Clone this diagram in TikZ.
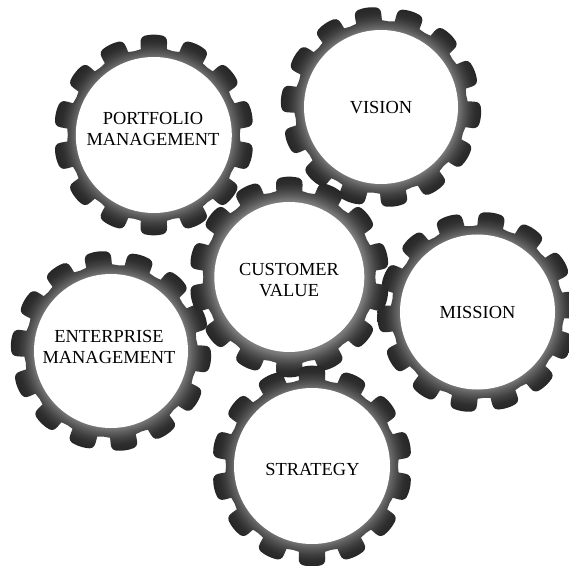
\documentclass[tikz,border=0pt]{standalone}
\usepackage{fontspec}
\setmainfont{Liberation Serif}
\definecolor{gear1}{HTML}{7C7C7C}
\definecolor{gear2}{HTML}{5E5E5E}
\definecolor{gear3}{HTML}{424242}
\definecolor{gear4}{HTML}{2E2E2E}
\definecolor{gear5}{HTML}{262626}
\pgfdeclareradialshading{gearshade}{\pgfpoint{0bp}{0bp}}{%
  color(0bp)=(gear1);color(19bp)=(gear1);color(20.3bp)=(gear2);color(21.8bp)=(gear3);color(23.3bp)=(gear4);color(25bp)=(gear5);color(50bp)=(gear5)}
\tikzset{
  gearbody/.style={shading=gearshade,draw=none},
  gearhole/.style={circle,fill=white,draw=none,inner sep=0pt},
  gearlabel/.style={align=center,text=black,font=\fontsize{18.4}{21.8}\selectfont,inner sep=0pt},
}
% name, cx, cy (from top), rotation, outer radius, hole radius
\newcommand{\gearwheel}[6]{%
  \begin{scope}[shift={(#2,565-#3)}]
    \pgfmathsetmacro{\gscale}{#5/100}
    \shade[gearbody,x=\gscale pt,y=\gscale pt]
      (#4-12.857:86)
      \foreach \i [evaluate=\i as \a using #4+\i*360/14] in {0,...,13} {
        -- (\a-12.857:86) -- (\a-8.6:86.8) -- (\a-8.2:93)
        .. controls (\a-8:98) and (\a-6.4:100.2) .. (\a-3.2:100.1)
        .. controls (\a-1.5:100.5) and (\a+1.5:100.5) .. (\a+3.2:100.1)
        .. controls (\a+6.4:100.2) and (\a+8:98) .. (\a+8.2:93)
        -- (\a+8.6:86.8)
      } -- cycle;
    \node[gearhole,minimum size=#6*2pt] (#1) at (0,0) {};
  \end{scope}}
\begin{document}
\begin{tikzpicture}[x=1pt,y=1pt]
\useasboundingbox (0,0) rectangle (569,565);
\fill[white] (0,0) rectangle (569,565);
\gearwheel{portfolio}{153.8}{135}{90}{100}{78}
\gearwheel{vision}{381}{107}{98}{100}{77}
\gearwheel{enterprise}{111}{351}{98}{100}{77}
\gearwheel{mission}{477.5}{312}{81.5}{100}{77.5}
\gearwheel{customer}{289.3}{277}{90}{100}{75}
\gearwheel{strategy}{312}{466}{90}{100}{78}
\node[gearlabel] (t1) at (153,565-129) {PORTFOLIO\\MANAGEMENT};
\node[gearlabel] (t2) at (381,565-108) {VISION};
\node[gearlabel] (t3) at (289,565-280) {CUSTOMER\\VALUE};
\node[gearlabel] (t4) at (109,565-347) {ENTERPRISE\\MANAGEMENT};
\node[gearlabel] (t5) at (477.5,565-312) {MISSION};
\node[gearlabel] (t6) at (312.5,565-469.5) {STRATEGY};
\end{tikzpicture}
\end{document}
